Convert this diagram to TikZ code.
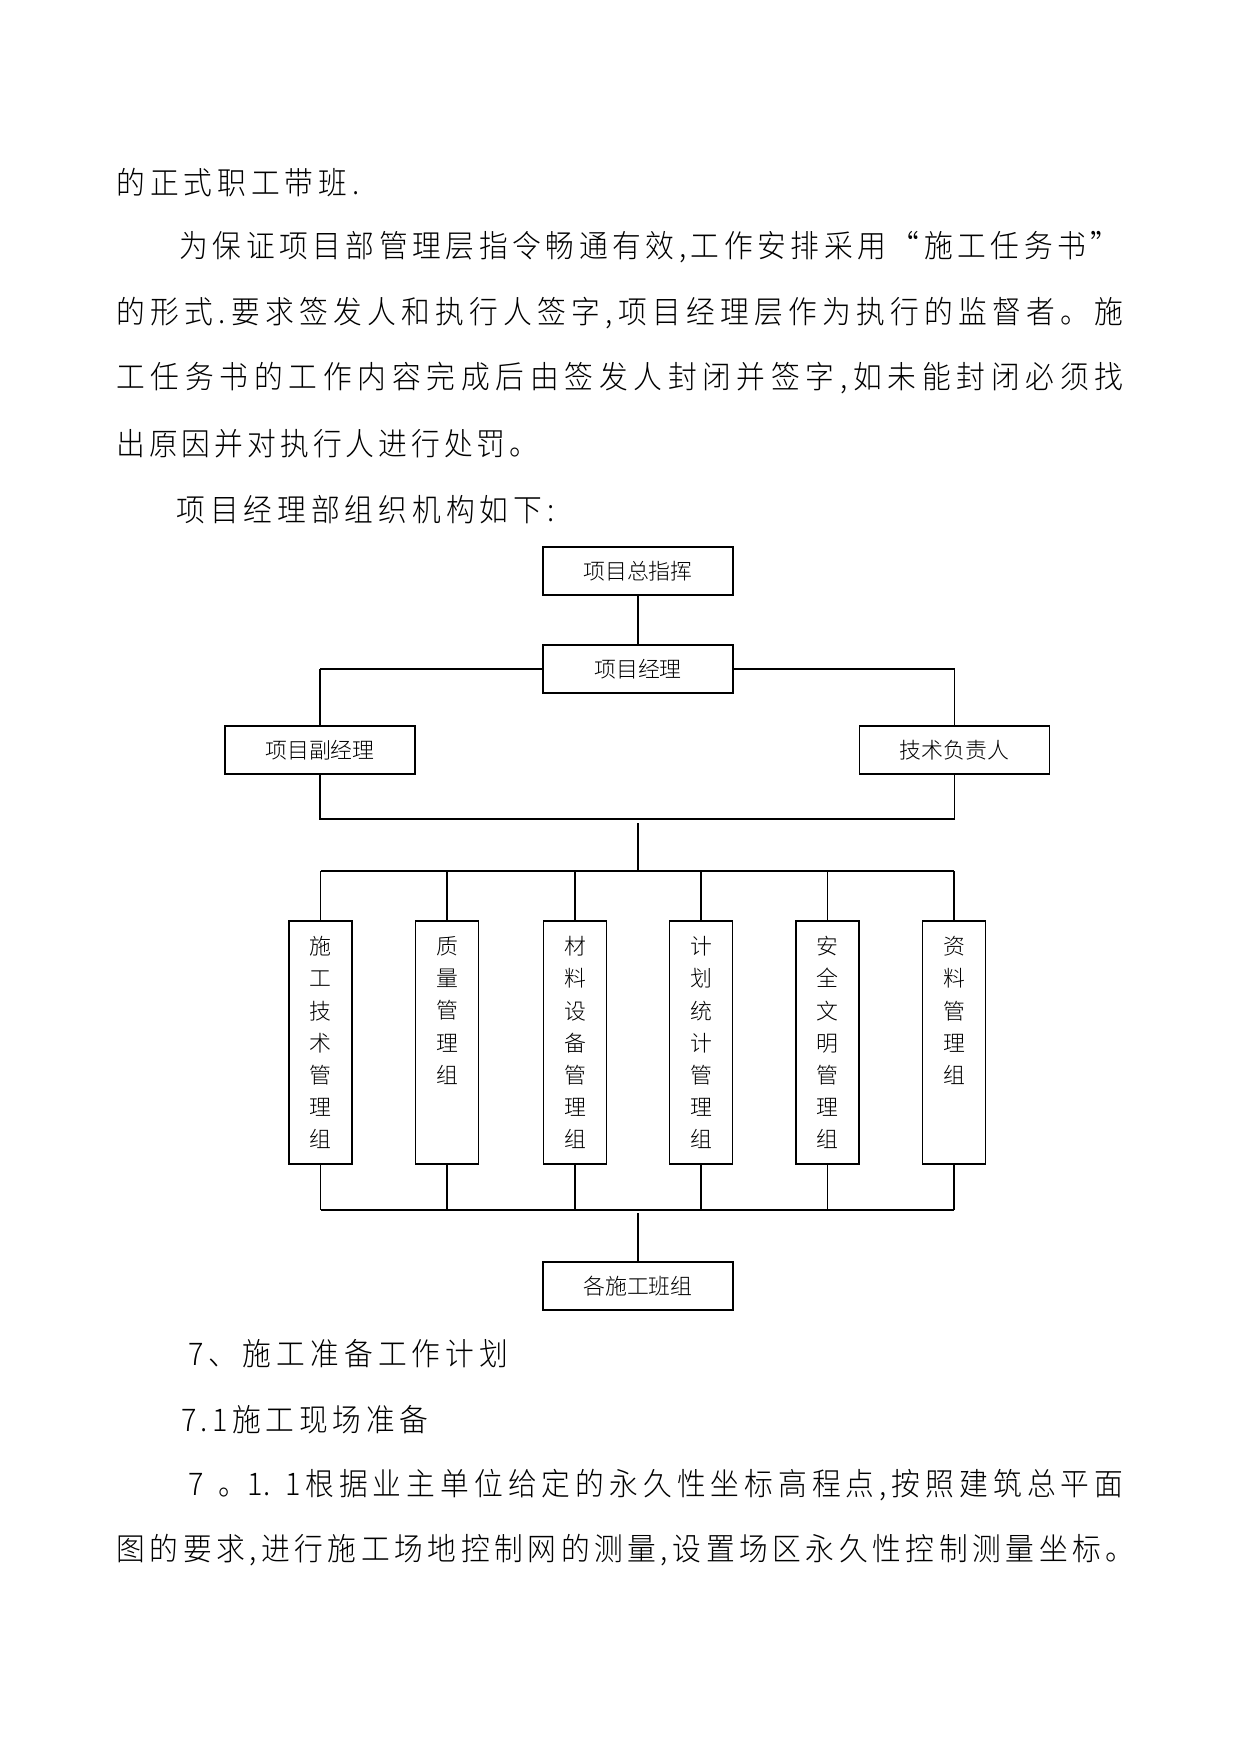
\documentclass[tikz,border=0pt]{standalone}
\usepackage{fontspec}
\IfFontExistsTF{Noto Sans CJK SC Light}{\def\cjkname{Noto Sans CJK SC Light}}{\def\cjkname{Noto Sans CJK SC}}
\newfontfamily\bodyfont[FakeStretch=0.92]{\cjkname}
\newfontfamily\boxfont{\cjkname}
\newdimen\pxu \pxu=0.48pt
\makeatletter
\def\sp@end{\sp@end@}
\newcommand\jl[2]{\hbox to #1\pxu{\sp@a#2\sp@end}}
\def\sp@a#1{#1\futurelet\sp@nx\sp@b}
\def\sp@b{\ifx\sp@nx\sp@end\expandafter\@gobble\else\hfill\expandafter\sp@a\fi}
\makeatother
\tikzset{
  txt/.style={anchor=west, inner sep=0pt, font=\fontsize{15pt}{17pt}\bodyfont},
  hbox/.style={draw, line width=0.8pt, inner sep=0pt, minimum width=91.2pt, minimum height=23.04pt, font=\fontsize{10.5pt}{12pt}\boxfont},
  vbox/.style={draw, line width=0.8pt, inner sep=0pt, minimum width=30.24pt, minimum height=116.64pt},
  vtxt/.style={anchor=north, align=center, inner sep=0pt, font=\fontsize{10.5pt}{15.46pt}\boxfont},
  thickln/.style={line width=0.9pt},
  thinln/.style={line width=0.5pt}
}
\begin{document}
\begin{tikzpicture}[x=0.48pt,y=-0.48pt]
\path[fill=white] (0,0) rectangle (1241,1754);
\useasboundingbox (0,0) rectangle (1241,1754);
% body text
\node[txt] (t1) at (116,183) {\jl{243}{的正式职工带班.}};
\node[txt] (t2) at (179,247.5) {\jl{940}{为保证项目部管理层指令畅通有效,工作安排采用“施工任务书”}};
\node[txt] (t3) at (116,313) {\jl{1007}{的形式.要求签发人和执行人签字,项目经理层作为执行的监督者。施}};
\node[txt] (t4) at (116,378.5) {\jl{1007}{工任务书的工作内容完成后由签发人封闭并签字,如未能封闭必须找}};
\node[txt] (t5) at (116,444) {\jl{422}{出原因并对执行人进行处罚。}};
\node[txt] (t6) at (176,509.5) {\jl{378}{项目经理部组织机构如下:}};
\node[txt] (t7) at (188,1354) {\jl{320}{7、施工准备工作计划}};
\node[txt] (t8) at (181,1419.5) {\jl{247}{{\hbox to 46\pxu{7\hfill.\hfill 1}}施工现场准备}};
\node[txt] (t9) at (188,1485) {\jl{935}{{\hbox to 112\pxu{7\hfill。\kern-14\pxu\hfill 1.\hfill 1}}根据业主单位给定的永久性坐标高程点,按照建筑总平面}};
\node[txt] (t10) at (116,1550.5) {\jl{1018}{图的要求,进行施工场地控制网的测量,设置场区永久性控制测量坐标。}};
% org chart boxes
\node[hbox] (zhihui) at (638,571) {项目总指挥};
\node[hbox] (jingli) at (638,669) {项目经理};
\node[hbox] (fu) at (320,750) {项目副经理};
\node[hbox] (ji) at (954.5,750) {技术负责人};
\node[vbox] (g1) at (320.5,1042.5) {};
\node[vbox] (g2) at (447,1042.5) {};
\node[vbox] (g3) at (575,1042.5) {};
\node[vbox] (g4) at (701,1042.5) {};
\node[vbox] (g5) at (827.5,1042.5) {};
\node[vbox] (g6) at (954,1042.5) {};
\node[vtxt] (g1t) at (320.5,936) {施\\工\\技\\术\\管\\理\\组};
\node[vtxt] (g2t) at (447,936) {质\\量\\管\\理\\组};
\node[vtxt] (g3t) at (575,936) {材\\料\\设\\备\\管\\理\\组};
\node[vtxt] (g4t) at (701,936) {计\\划\\统\\计\\管\\理\\组};
\node[vtxt] (g5t) at (827.5,936) {安\\全\\文\\明\\管\\理\\组};
\node[vtxt] (g6t) at (954,936) {资\\料\\管\\理\\组};
\node[hbox] (banzu) at (638,1286) {各施工班组};
% connectors
\draw[thinln] (zhihui) -- (jingli);
\coordinate (jl) at (fu.north |- jingli.west);
\coordinate (jr) at (ji.north |- jingli.east);
\draw[thickln] (jingli.west) -- (jl);
\draw[thinln] (jl) -- (fu.north);
\draw[thickln] (jingli.east) -- (jr);
\draw[thinln] (jr) -- (ji.north);
\coordinate (hb) at (638,819);
\draw[thinln] (fu.south) |- (hb) -| (ji.south);
\coordinate (v1) at (638,823);
\coordinate (bus1) at (638,871);
\draw[thinln] (v1) -- (bus1);
\draw[thickln] (g1.north |- bus1) -- (g6.north |- bus1);
\draw[thickln] (g1.north |- bus1) -- (g1.north);
\draw[thickln] (g2.north |- bus1) -- (g2.north);
\draw[thinln] (g3.north |- bus1) -- (g3.north);
\draw[thinln] (g4.north |- bus1) -- (g4.north);
\draw[thinln] (g5.north |- bus1) -- (g5.north);
\draw[thinln] (g6.north |- bus1) -- (g6.north);
\coordinate (bus2) at (638,1210);
\draw[thickln] (g1.south |- bus2) -- (g6.south |- bus2);
\draw[thickln] (g1.south) -- (g1.south |- bus2);
\draw[thickln] (g2.south) -- (g2.south |- bus2);
\draw[thinln] (g3.south) -- (g3.south |- bus2);
\draw[thinln] (g4.south) -- (g4.south |- bus2);
\draw[thinln] (g5.south) -- (g5.south |- bus2);
\draw[thinln] (g6.south) -- (g6.south |- bus2);
\coordinate (v2) at (638,1213);
\draw[thinln] (v2) -- (banzu.north);
\end{tikzpicture}
\end{document}
